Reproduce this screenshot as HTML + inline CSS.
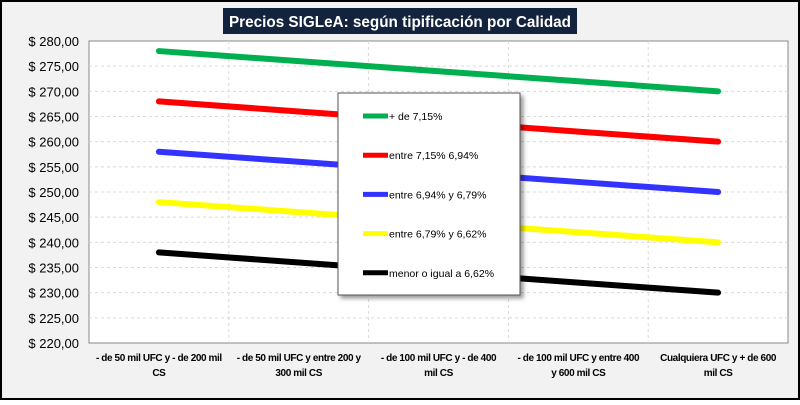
<!DOCTYPE html>
<html><head><meta charset="utf-8"><style>
body{margin:0;width:800px;height:400px;overflow:hidden;background:#fff;font-family:"Liberation Sans",sans-serif}
</style></head><body>
<svg width="800" height="400" id="svg" xmlns="http://www.w3.org/2000/svg">
<defs><filter id="sh" x="-10%" y="-10%" width="130%" height="130%"><feDropShadow dx="3" dy="3" stdDeviation="2" flood-color="#000" flood-opacity="0.4"/></filter></defs>
<rect x="1" y="1" width="798" height="398" fill="#f2f2f2" stroke="#000" stroke-width="2"/>
<rect x="223" y="8" width="354" height="26" fill="#13233d"/>
<text x="229" y="27" fill="#fff" font-weight="bold" font-size="16" textLength="342" lengthAdjust="spacingAndGlyphs">Precios SIGLeA: según tipificación por Calidad</text>
<rect x="89" y="41" width="699" height="302" fill="#fff" stroke="#888" stroke-width="1"/>
<g id="grid"></g><g id="axes"></g><g id="lines"></g>
<g>
<rect x="338" y="93" width="182" height="202" fill="#fff" stroke="#555" filter="url(#sh)"/>
<g id="legend"></g></g>
</svg>
<script>
const categories=["- de 50 mil UFC y - de 200 mil|CS","- de 50 mil UFC y entre  200 y|300 mil CS","- de 100 mil UFC y - de 400|mil CS","- de 100 mil UFC y entre  400|y 600 mil CS","Cualquiera UFC y + de 600|mil CS"];
const seriesNames=["+ de 7,15%","entre 7,15% 6,94%","entre 6,94% y 6,79%","entre 6,79% y 6,62%","menor o igual a 6,62%"];
const seriesColors=["#00b050","#ff0000","#3333ff","#ffff00","#000000"];
const s1=[278,276,274,272,270];
const s2=[268,266,264,262,260];
const s3=[258,256,254,252,250];
const s4=[248,246,244,242,240];
const s5=[238,236,234,232,230];
const series=[s1,s2,s3,s4,s5];
const yTicks=[220,225,230,235,240,245,250,255,260,265,270,275,280];
const NS="http://www.w3.org/2000/svg";
const X0=89,X1=788,Y0=343,Y1=41,YMIN=220,YMAX=280;
const bw=(X1-X0)/categories.length;
const x=i=>X0+bw*(i+0.5);
const y=v=>Y0-(v-YMIN)/(YMAX-YMIN)*(Y0-Y1);
function mk(t,a,p){const e=document.createElementNS(NS,t);for(const k in a)e.setAttribute(k,a[k]);p.appendChild(e);return e;}
const grid=document.getElementById('grid'),axes=document.getElementById('axes'),lines=document.getElementById('lines'),leg=document.getElementById('legend');
yTicks.forEach(v=>{
 if(v>YMIN&&v<YMAX){const g=mk('line',{x1:X0,x2:X1,y1:y(v),y2:y(v),stroke:'#d9d9d9','stroke-dasharray':'3,3'},grid);
 
 }
 const t=mk('text',{x:79,y:y(v)+5,'text-anchor':'end','font-size':'13',fill:'#000'},axes);
 t.textContent='$ '+v.toFixed(2).replace('.',',');
 
 
});
for(let i=1;i<categories.length;i++){
 const g=mk('line',{x1:X0+bw*i,x2:X0+bw*i,y1:Y1,y2:Y0,stroke:'#d9d9d9','stroke-dasharray':'3,3'},grid);
 
 
}
categories.forEach((c,i)=>{
 c.split('|').forEach((ln,j)=>{
  const t=mk('text',{x:x(i),y:361+j*15,'text-anchor':'middle','font-size':'10','font-weight':'bold','letter-spacing':'-0.4'},axes);
  t.textContent=ln;
  
  
 });
});
series.forEach((s,k)=>{
 const p=mk('polyline',{points:s.map((v,i)=>x(i)+','+y(v)).join(' '),fill:'none',stroke:seriesColors[k],'stroke-width':'6','stroke-linecap':'round'},lines);
 
 
 const ly=116+k*39.2;
 const l=mk('line',{x1:363,x2:388,y1:ly,y2:ly,stroke:seriesColors[k],'stroke-width':'5'},leg);
 
 
 const t=mk('text',{x:389,y:ly+4,'font-size':'10.5'},leg);
 t.textContent=seriesNames[k];
 
 
});
</script>
</body></html>
